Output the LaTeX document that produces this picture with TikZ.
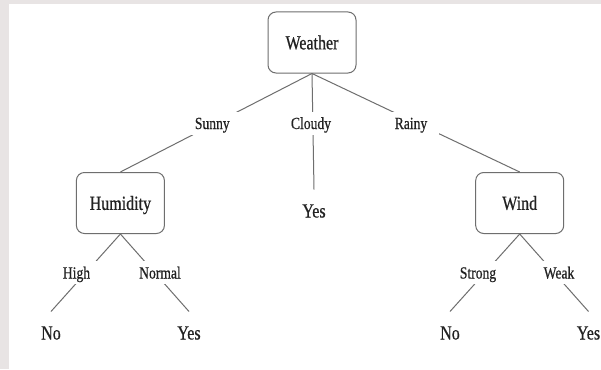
\documentclass[tikz,border=0pt]{standalone}
\usepackage{fontspec}
\setmainfont{Liberation Serif}[FakeStretch=0.8,FakeBold=0.6]
\definecolor{bg}{HTML}{E8E4E4}
\definecolor{ink}{HTML}{222222}
\definecolor{edgec}{HTML}{6E6E6E}
\begin{document}
\begin{tikzpicture}[x=1pt,y=-1pt,
  box/.style={draw=edgec, line width=1pt, rounded corners=8pt, minimum width=88pt, minimum height=61pt, inner sep=0pt, text height=13.7pt, text depth=0pt, font=\fontsize{20}{24}\selectfont, text=ink},
  lbl/.style={fill=white, inner xsep=12pt, inner ysep=1pt, text height=16.3pt, text depth=4.5pt, anchor=base, font=\fontsize{17}{20}\selectfont, text=ink},
  leaf/.style={inner xsep=2pt, inner ysep=13pt, text height=14.8pt, text depth=0pt, anchor=base, font=\fontsize{20}{24}\selectfont, text=ink},
  edgeline/.style={draw=edgec, line width=1pt}]
\fill[bg] (0,0) rectangle (601,369);
\fill[white] (8.7,4) rectangle (601,369);
\useasboundingbox (0,0) rectangle (601,369);

\node[box] (weather) at (312,42.5) {Weather};
\node[box] (hum) at (120.4,203) {Humidity};
\node[box] (wind) at (519.7,203) {Wind};
\node[leaf] (yesc) at (314,217.5) {Yes};
\node[leaf] (noh) at (51,339.5) {No};
\node[leaf] (yesh) at (189,339.5) {Yes};
\node[leaf] (now) at (450,339.5) {No};
\node[leaf] (yesw) at (588.5,339.5) {Yes};

\draw[edgeline] (weather.south) -- (hum.north);
\draw[edgeline] (weather.south) -- (yesc.north);
\draw[edgeline] (weather.south) -- (wind.north);
\draw[edgeline] (hum.south) -- (noh.north);
\draw[edgeline] (hum.south) -- (yesh.north);
\draw[edgeline] (wind.south) -- (now.north);
\draw[edgeline] (wind.south) -- (yesw.north);

\node[lbl] (sunny) at (212.3,129) {Sunny};
\node[lbl] (cloudy) at (311,129) {Cloudy};
\node[lbl] (rainy) at (411,129) {Rainy};
\node[lbl] (high) at (76.5,278.5) {High};
\node[lbl] (normal) at (160,278.5) {Normal};
\node[lbl] (strong) at (478,278.5) {Strong};
\node[lbl] (weak) at (559,278.5) {Weak};
\end{tikzpicture}
\end{document}
